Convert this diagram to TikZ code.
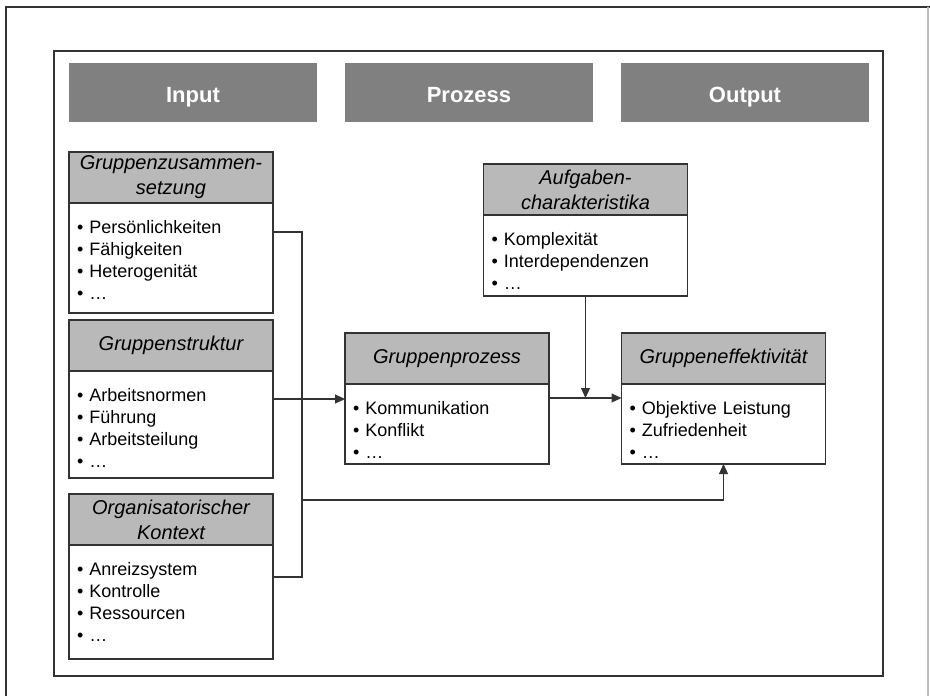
\documentclass[tikz,border=0pt]{standalone}
\usepackage{fontspec}
\setmainfont{Liberation Sans}
\usetikzlibrary{arrows.meta}
\definecolor{bargray}{HTML}{808080}
\definecolor{headgray}{HTML}{B9B9B9}
\definecolor{linegray}{HTML}{333333}

\begin{document}
\begin{tikzpicture}[x=1pt,y=1pt,
  bar/.style={fill=bargray,minimum width=248pt,minimum height=59pt,text=white,text height=19pt,text depth=0pt,font=\fontsize{22}{26}\selectfont\bfseries},
  head/.style={draw=linegray,line width=1.2pt,fill=headgray,minimum width=204pt,minimum height=51pt,anchor=north,align=center,font=\fontsize{20}{25}\selectfont\itshape},
  list/.style={draw=linegray,line width=1.2pt,fill=white,anchor=north,text width=188pt,inner xsep=8pt,align=left,text height=30pt,text depth=#1,font=\fontsize{18}{22}\selectfont},
  link/.style={draw=linegray,line width=1.1pt},
  arr/.style={link,-{Triangle[length=10pt,width=9pt]}}]
\tikzstyle{every node}+=[inner sep=0pt,outer sep=0pt]
\useasboundingbox (0,0) rectangle (930,-696);
% frames
\draw [linegray,line width=2pt] (6,-696) -- (6,-7) -- (930,-7);
\draw [black!25,line width=1.5pt] (928,-7) -- (928,-696);
\draw [linegray,line width=1.2pt] (54,-51) rectangle (883,-676);
% column bars
\draw (193,-92.5) node[bar] (input) {Input};
\draw (469,-92.5) node[bar] (prozess) {Prozess};
\draw (745,-92.5) node[bar] (output) {Output};
% input boxes
\draw (171,-152) node[head] (zus) {Gruppenzusammen-\\setzung};
\draw (zus.south) node[list=80pt] (zus-l) {\textbullet\ Persönlichkeiten\\\textbullet\ Fähigkeiten\\\textbullet\ Heterogenität\\\textbullet\ …};
\draw (171,-320) node[head] (struk) {Gruppenstruktur};
\draw (struk.south) node[list=77pt] (struk-l) {\textbullet\ Arbeitsnormen\\\textbullet\ Führung\\\textbullet\ Arbeitsteilung\\\textbullet\ …};
\draw (171,-494) node[head] (kon) {Organisatorischer\\Kontext};
\draw (kon.south) node[list=84pt] (kon-l) {\textbullet\ Anreizsystem\\\textbullet\ Kontrolle\\\textbullet\ Ressourcen\\\textbullet\ …};
% process and output boxes
\draw (447,-333) node[head] (proz) {Gruppenprozess};
\draw (proz.south) node[list=50pt] (proz-l) {\textbullet\ Kommunikation\\\textbullet\ Konflikt\\\textbullet\ …};
\draw (585.5,-164) node[head] (aufg) {Aufgaben-\\charakteristika};
\draw (aufg.south) node[list=51pt] (aufg-l) {\textbullet\ Komplexität\\\textbullet\ Interdependenzen\\\textbullet\ …};
\draw (723.5,-333) node[head] (eff) {Gruppeneffektivität};
\draw (eff.south) node[list=50pt] (eff-l) {\textbullet\ Objektive Leistung\\\textbullet\ Zufriedenheit\\\textbullet\ …};
% connectors
\coordinate (bus-top) at (302,-232);
\coordinate (bus-bot) at (302,-577);
\coordinate (bus-mid) at (302,-399);
\coordinate (bus-low) at (302,-500);
\coordinate (join) at (585,-398);
\draw [link] (bus-top -| zus-l.east) -- (bus-top) -- (bus-bot) -- (bus-bot -| kon-l.east);
\draw [arr] (bus-mid -| struk-l.east) -- (bus-mid -| proz-l.west);
\draw [arr] (bus-low) -| (eff-l.south);
\draw [arr] (join -| proz-l.east) -- (join -| eff-l.west);
\draw [arr] (aufg-l.south) -- (aufg-l.south |- join);
\end{tikzpicture}
\end{document}
